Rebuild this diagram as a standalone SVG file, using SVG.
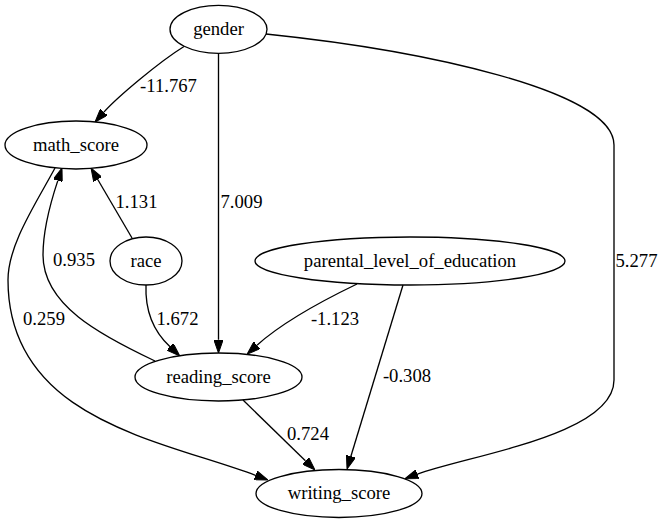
<svg xmlns="http://www.w3.org/2000/svg" width="664" height="523" viewBox="0 0 664 523">
<defs>
<marker id="ah" viewBox="0 0 13.33 9.33" refX="0" refY="4.67" markerWidth="13.33" markerHeight="9.33" orient="auto" markerUnits="userSpaceOnUse">
<path d="M0,0 L13.33,4.67 L0,9.33 z" fill="#000" stroke="#000" stroke-width="1"/>
</marker>
</defs>
<rect width="664" height="523" fill="#fff"/>
<g id="nodes">
<g id="gender"><ellipse cx="218.5" cy="29.3" rx="48.5" ry="24" fill="none" stroke="#000" stroke-width="1.33"/><text transform="translate(218.5,35) scale(0.7778)" font-size="24" font-family="Liberation Serif" text-anchor="middle">gender</text></g>
<g id="math_score"><ellipse cx="76" cy="145" rx="71" ry="24" fill="none" stroke="#000" stroke-width="1.33"/><text transform="translate(76,150.7) scale(0.7778)" font-size="24" font-family="Liberation Serif" text-anchor="middle">math_score</text></g>
<g id="race"><ellipse cx="146" cy="261" rx="36" ry="24" fill="none" stroke="#000" stroke-width="1.33"/><text transform="translate(146,266.7) scale(0.7778)" font-size="24" font-family="Liberation Serif" text-anchor="middle">race</text></g>
<g id="parental_level_of_education"><ellipse cx="410" cy="261" rx="155" ry="24" fill="none" stroke="#000" stroke-width="1.33"/><text transform="translate(410,266.7) scale(0.7778)" font-size="24" font-family="Liberation Serif" text-anchor="middle">parental_level_of_education</text></g>
<g id="reading_score"><ellipse cx="218.5" cy="377" rx="83.5" ry="24" fill="none" stroke="#000" stroke-width="1.33"/><text transform="translate(218.5,382.7) scale(0.7778)" font-size="24" font-family="Liberation Serif" text-anchor="middle">reading_score</text></g>
<g id="writing_score"><ellipse cx="339" cy="493.5" rx="83" ry="24" fill="none" stroke="#000" stroke-width="1.33"/><text transform="translate(339,499.2) scale(0.7778)" font-size="24" font-family="Liberation Serif" text-anchor="middle">writing_score</text></g>
</g>
<g id="edges">
<g fill="none" stroke="#000" stroke-width="1.33">
<path d="M184,46.5 C159,62 117.3,97.2 103.9,112.1" marker-end="url(#ah)"/>
<path d="M218.5,53.3 L218.5,339.7" marker-end="url(#ah)"/>
<path d="M266,34 C420,50 614,90 614,145 L614,380 C614,435 470,455 417.4,474.2" marker-end="url(#ah)"/>
<path d="M132,238 L97.75,179.5" marker-end="url(#ah)"/>
<path d="M146,285 C145,310 152,330 170.05,346.8" marker-end="url(#ah)"/>
<path d="M55,168 C35,205 8,245 8,280 C8,420 161.9,440.1 255.5,475.3" marker-end="url(#ah)"/>
<path d="M155,361 C100,335 43,305 43,255 C43,228 51.5,199.6 57.8,180.6" marker-end="url(#ah)"/>
<path d="M357,284 C330,297 285,320 257,345.2" marker-end="url(#ah)"/>
<path d="M403,285 L350.9,456.3" marker-end="url(#ah)"/>
<path d="M243,400 L305.4,460.7" marker-end="url(#ah)"/>
</g>
<text transform="translate(168.5,92) scale(0.7778)" font-size="24" font-family="Liberation Serif" text-anchor="middle">-11.767</text>
<text transform="translate(241.5,208) scale(0.7778)" font-size="24" font-family="Liberation Serif" text-anchor="middle">7.009</text>
<text transform="translate(636.5,267) scale(0.7778)" font-size="24" font-family="Liberation Serif" text-anchor="middle">5.277</text>
<text transform="translate(136.5,208) scale(0.7778)" font-size="24" font-family="Liberation Serif" text-anchor="middle">1.131</text>
<text transform="translate(177.5,325) scale(0.7778)" font-size="24" font-family="Liberation Serif" text-anchor="middle">1.672</text>
<text transform="translate(44,325) scale(0.7778)" font-size="24" font-family="Liberation Serif" text-anchor="middle">0.259</text>
<text transform="translate(74,266) scale(0.7778)" font-size="24" font-family="Liberation Serif" text-anchor="middle">0.935</text>
<text transform="translate(335,325) scale(0.7778)" font-size="24" font-family="Liberation Serif" text-anchor="middle">-1.123</text>
<text transform="translate(407,382) scale(0.7778)" font-size="24" font-family="Liberation Serif" text-anchor="middle">-0.308</text>
<text transform="translate(308,440) scale(0.7778)" font-size="24" font-family="Liberation Serif" text-anchor="middle">0.724</text>
</g>
</svg>
